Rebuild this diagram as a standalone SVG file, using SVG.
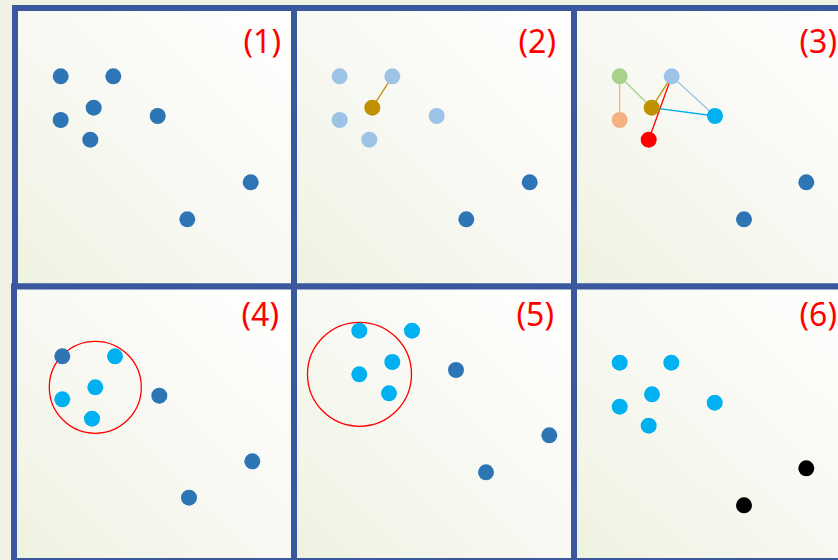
<svg xmlns="http://www.w3.org/2000/svg" width="838" height="560" viewBox="0 0 838 560">
  <defs>
    <linearGradient id="panelFill" x1="1" y1="0" x2="0" y2="1">
      <stop offset="0" stop-color="#ffffff"/>
      <stop offset="0.5" stop-color="#f8f9f3"/>
      <stop offset="1" stop-color="#eef2e1"/>
    </linearGradient>
  </defs>
  <style>
    .panel { fill: url(#panelFill); stroke: #3b589e; stroke-width: 6; }
    .lbl { font-family: "Noto Sans", "Open Sans", sans-serif; font-size: 32px; fill: #ff0000; text-anchor: end; }
    .dk { fill: #2e75b6; }
    .lb { fill: #9dc3e6; }
    .gd { fill: #bf9000; }
    .gr { fill: #a9d18e; }
    .sa { fill: #f4b183; }
    .rd { fill: #ff0000; }
    .cy { fill: #00b0f0; }
    .bk { fill: #000000; }
    .ring { fill: none; stroke: #ff0000; stroke-width: 1.3; }
    .ln { stroke-width: 1.3; fill: none; }
  </style>
  <rect x="0" y="0" width="838" height="560" fill="#eff2e4"/>

  <g id="panel-1">
    <rect class="panel" x="15" y="8" width="279" height="278.5"/>
    <text class="lbl" x="281" y="53">(1)</text>
  </g>
  <g id="panel-2">
    <rect class="panel" x="294" y="8" width="280" height="278.5"/>
    <text class="lbl" x="556" y="53">(2)</text>
  </g>
  <g id="panel-3">
    <rect class="panel" x="574" y="8" width="300" height="278.5"/>
    <text class="lbl" x="837" y="53">(3)</text>
  </g>
  <g id="panel-4">
    <rect class="panel" x="14" y="286.5" width="280" height="274.5"/>
    <text class="lbl" x="279" y="326">(4)</text>
  </g>
  <g id="panel-5">
    <rect class="panel" x="294" y="286.5" width="280" height="274.5"/>
    <text class="lbl" x="554" y="326">(5)</text>
  </g>
  <g id="panel-6">
    <rect class="panel" x="574" y="286.5" width="300" height="274.5"/>
    <text class="lbl" x="837" y="326">(6)</text>
  </g>

  <g id="connectors">
    <line class="ln" stroke="#bf9000" x1="372.3" y1="107.7" x2="392.3" y2="76.3"/>
    <line class="ln" stroke="#f4b183" x1="619.7" y1="76.3" x2="619.7" y2="120"/>
    <line class="ln" stroke="#a9d18e" x1="619.7" y1="76.3" x2="651.7" y2="107.7"/>
    <line class="ln" stroke="#bf9000" x1="651.7" y1="107.7" x2="671.7" y2="76.3"/>
    <line class="ln" stroke="#ff0000" x1="648.7" y1="139.7" x2="671.7" y2="76.3"/>
    <line class="ln" stroke="#00b0f0" x1="651.7" y1="107.7" x2="715" y2="116"/>
    <line class="ln" stroke="#9dc3e6" x1="671.7" y1="76.3" x2="715" y2="116"/>
    <circle class="ring" cx="95.3" cy="387.3" r="46"/>
    <circle class="ring" cx="359.5" cy="374.3" r="52"/>
  </g>

  <g id="dots-1">
    <circle class="dk" cx="60.7" cy="76.3" r="8"/>
    <circle class="dk" cx="113.3" cy="76.3" r="8"/>
    <circle class="dk" cx="93.7" cy="107.7" r="8"/>
    <circle class="dk" cx="60.7" cy="120" r="8"/>
    <circle class="dk" cx="90.3" cy="139.7" r="8"/>
    <circle class="dk" cx="157.7" cy="116" r="8"/>
    <circle class="dk" cx="250.7" cy="182.3" r="8"/>
    <circle class="dk" cx="187.3" cy="219.3" r="8"/>
  </g>
  <g id="dots-2">
    <circle class="lb" cx="339.7" cy="76.3" r="8"/>
    <circle class="lb" cx="392.3" cy="76.3" r="8"/>
    <circle class="gd" cx="372.3" cy="107.7" r="8"/>
    <circle class="lb" cx="339.7" cy="120" r="8"/>
    <circle class="lb" cx="369.3" cy="139.7" r="8"/>
    <circle class="lb" cx="436.7" cy="116" r="8"/>
    <circle class="dk" cx="529.7" cy="182.3" r="8"/>
    <circle class="dk" cx="466.3" cy="219.3" r="8"/>
  </g>
  <g id="dots-3">
    <circle class="gr" cx="619.7" cy="76.3" r="8"/>
    <circle class="lb" cx="671.7" cy="76.3" r="8"/>
    <circle class="gd" cx="651.7" cy="107.7" r="8"/>
    <circle class="sa" cx="619.7" cy="120" r="8"/>
    <circle class="rd" cx="648.7" cy="139.7" r="8"/>
    <circle class="cy" cx="715" cy="116" r="8"/>
    <circle class="dk" cx="806.3" cy="182.3" r="8"/>
    <circle class="dk" cx="744" cy="219.3" r="8"/>
  </g>
  <g id="dots-4">
    <circle class="dk" cx="62.3" cy="356.3" r="8"/>
    <circle class="cy" cx="115" cy="356.3" r="8"/>
    <circle class="cy" cx="95.3" cy="387.3" r="8"/>
    <circle class="cy" cx="62.3" cy="399.3" r="8"/>
    <circle class="cy" cx="92" cy="418.7" r="8"/>
    <circle class="dk" cx="159.3" cy="395.7" r="8"/>
    <circle class="dk" cx="252.3" cy="461.3" r="8"/>
    <circle class="dk" cx="189" cy="497.7" r="8"/>
  </g>
  <g id="dots-5">
    <circle class="cy" cx="359.3" cy="330.7" r="8"/>
    <circle class="cy" cx="412" cy="330.7" r="8"/>
    <circle class="cy" cx="392.3" cy="362" r="8"/>
    <circle class="cy" cx="359.3" cy="374.3" r="8"/>
    <circle class="cy" cx="389" cy="393.3" r="8"/>
    <circle class="dk" cx="456" cy="370" r="8"/>
    <circle class="dk" cx="549.3" cy="435.3" r="8"/>
    <circle class="dk" cx="486" cy="472.3" r="8"/>
  </g>
  <g id="dots-6">
    <circle class="cy" cx="619.7" cy="362.7" r="8"/>
    <circle class="cy" cx="671.3" cy="362.7" r="8"/>
    <circle class="cy" cx="652" cy="394.3" r="8"/>
    <circle class="cy" cx="619.7" cy="406.7" r="8"/>
    <circle class="cy" cx="648.7" cy="425.7" r="8"/>
    <circle class="cy" cx="714.7" cy="402.7" r="8"/>
    <circle class="bk" cx="806.3" cy="468.3" r="8"/>
    <circle class="bk" cx="744" cy="505.3" r="8"/>
  </g>
</svg>
